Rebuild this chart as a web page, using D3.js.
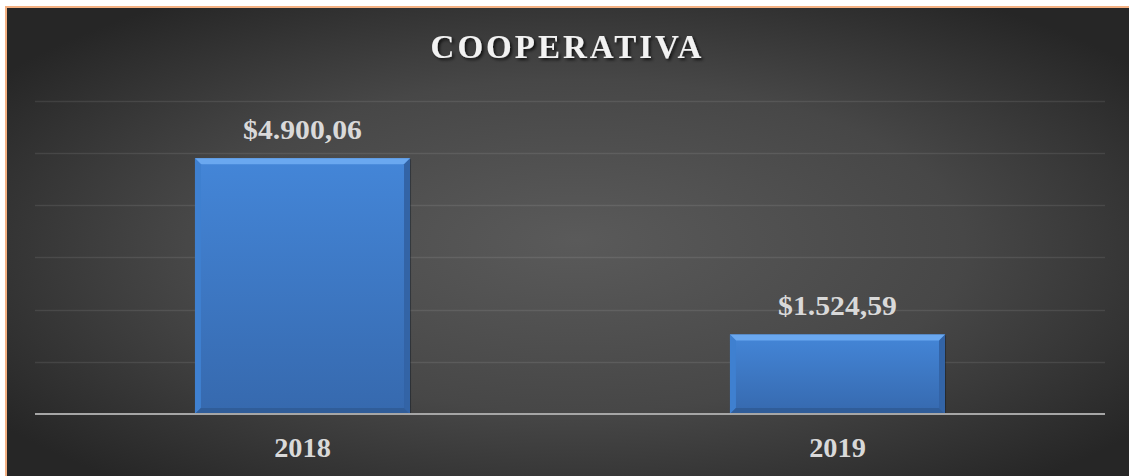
<!DOCTYPE html>
<html>
<head>
<meta charset="utf-8">
<script src="https://d3js.org/d3.v7.min.js"></script>
<style>
  html, body { margin: 0; padding: 0; background: #fff; }
  svg { display: block; }
</style>
</head>
<body>
<div id="chart"></div>
<script>
// data
var categories = ["2018", "2019"];
var values = [4900.06, 1524.59];
var chartTitle = "COOPERATIVA";
var yMax = 6000;
var yStep = 1000;

var wdim = 1129, hdim = 476;
var margin = {top: 101, right: 24, bottom: 62, left: 35};
var plotBottom = 414;

// spanish style money: $4.900,06
var locale = d3.formatLocale({decimal: ",", thousands: ".", grouping: [3], currency: ["$", ""]});
var money = locale.format("$,.2f");

var svg = d3.select("#chart").append("svg")
  .attr("width", wdim)
  .attr("height", hdim);

var defs = svg.append("defs");

var bg = defs.append("radialGradient")
  .attr("id", "bg")
  .attr("cx", "50%").attr("cy", "50%").attr("r", "62%")
  .attr("fx", "50%").attr("fy", "48%");
bg.append("stop").attr("offset", "0%").attr("stop-color", "#5a5a5a");
bg.append("stop").attr("offset", "55%").attr("stop-color", "#474747");
bg.append("stop").attr("offset", "100%").attr("stop-color", "#262626");

var barGrad = defs.append("linearGradient")
  .attr("id", "barFill")
  .attr("x1", 0).attr("y1", 0).attr("x2", 0).attr("y2", 1);
barGrad.append("stop").attr("offset", "0%").attr("stop-color", "#4486d8");
barGrad.append("stop").attr("offset", "100%").attr("stop-color", "#3669ae");

var shadow = defs.append("filter").attr("id", "tshadow")
  .attr("x", "-10%").attr("y", "-30%").attr("width", "130%").attr("height", "170%");
shadow.append("feDropShadow")
  .attr("dx", 2).attr("dy", 2).attr("stdDeviation", 1.5)
  .attr("flood-color", "#000").attr("flood-opacity", 0.7);

// background + orange frame
svg.append("rect")
  .attr("x", 6).attr("y", 7)
  .attr("width", wdim + 10).attr("height", hdim + 10)
  .attr("fill", "url(#bg)")
  .attr("stroke", "#f4b183")
  .attr("stroke-width", 2);

var x = d3.scaleBand()
  .domain(categories)
  .range([margin.left, wdim - margin.right])
  .paddingInner(0.598)
  .paddingOuter(0.299);

var y = d3.scaleLinear()
  .domain([0, yMax])
  .range([plotBottom, 100.8]);

// gridlines
svg.append("g")
  .selectAll("line")
  .data(d3.range(yStep, yMax + 1, yStep))
  .join("line")
  .attr("x1", margin.left)
  .attr("x2", wdim - margin.right)
  .attr("y1", function(d){ return Math.round(y(d)) + 0.5; })
  .attr("y2", function(d){ return Math.round(y(d)) + 0.5; })
  .attr("stroke", "rgba(255,255,255,0.09)")
  .attr("stroke-width", 1.5);

// bars with bevel
var b = 6;
var bars = svg.append("g").selectAll("g")
  .data(values)
  .join("g");

bars.each(function(d, i){
  var g = d3.select(this);
  var bx = x(categories[i]), bw = x.bandwidth();
  var by = y(d), bh = y(0) - y(d);
  g.append("rect")
    .attr("x", bx + 1).attr("y", by + 1)
    .attr("width", bw).attr("height", bh)
    .attr("fill", "rgba(0,0,0,0.35)");
  g.append("rect")
    .attr("x", bx).attr("y", by)
    .attr("width", bw).attr("height", bh)
    .attr("fill", "url(#barFill)");
  var poly = function(pts, fill){
    g.append("polygon")
      .attr("points", pts.map(function(p){ return p.join(","); }).join(" "))
      .attr("fill", fill);
  };
  poly([[bx, by], [bx + bw, by], [bx + bw - b, by + b], [bx + b, by + b]], "#6aa8f0");
  poly([[bx, by], [bx + b, by + b], [bx + b, by + bh - b], [bx, by + bh]], "#3f80d0");
  poly([[bx + bw, by], [bx + bw, by + bh], [bx + bw - b, by + bh - b], [bx + bw - b, by + b]], "#3364a6");
  poly([[bx, by + bh], [bx + bw, by + bh], [bx + bw - b, by + bh - b], [bx + b, by + bh - b]], "#305d99");
});

// value labels
svg.append("g").selectAll("text")
  .data(values)
  .join("text")
  .attr("transform", function(d, i){
    return "translate(" + (x(categories[i]) + x.bandwidth() / 2) + "," + (y(d) - 19) + ") scale(1.1,1)";
  })
  .attr("text-anchor", "middle")
  .attr("font-family", "'Liberation Serif', 'Times New Roman', serif")
  .attr("font-weight", "bold")
  .attr("font-size", "27px")
  .attr("fill", "#d9d9d9")
  .text(function(d){ return money(d); });

// x axis line
svg.append("line")
  .attr("x1", margin.left).attr("x2", wdim - margin.right)
  .attr("y1", plotBottom).attr("y2", plotBottom)
  .attr("stroke", "#a6a6a6")
  .attr("stroke-width", 2);

// category labels
svg.append("g").selectAll("text")
  .data(categories)
  .join("text")
  .attr("transform", function(d){
    return "translate(" + (x(d) + x.bandwidth() / 2) + ",457) scale(1.05,1)";
  })
  .attr("text-anchor", "middle")
  .attr("font-family", "'Liberation Serif', 'Times New Roman', serif")
  .attr("font-weight", "bold")
  .attr("font-size", "27px")
  .attr("fill", "#d9d9d9")
  .text(function(d){ return d; });

// title
svg.append("text")
  .attr("x", 567.5).attr("y", 58)
  .attr("text-anchor", "middle")
  .attr("font-family", "'Liberation Serif', 'Times New Roman', serif")
  .attr("font-weight", "bold")
  .attr("font-size", "33px")
  .attr("letter-spacing", "3px")
  .attr("fill", "#f2f2f2")
  .attr("filter", "url(#tshadow)")
  .text(chartTitle);
</script>
</body>
</html>
